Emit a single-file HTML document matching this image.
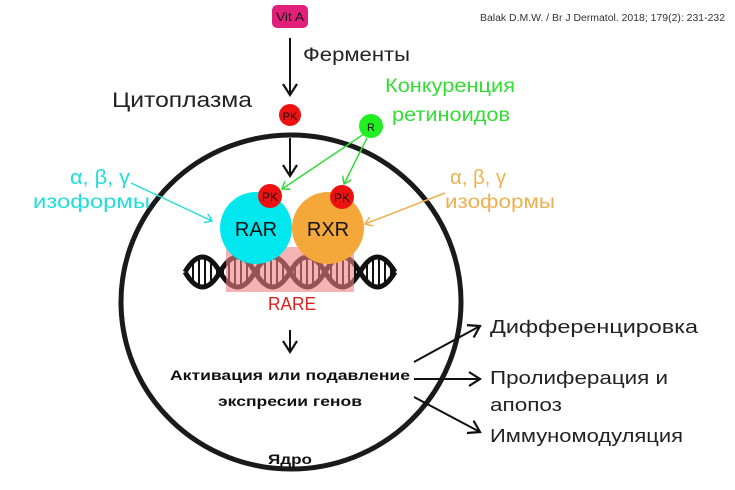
<!DOCTYPE html>
<html><head><meta charset="utf-8"><style>
body{margin:0;background:#fff}
svg{display:block}
text{font-family:"Liberation Sans","DejaVu Sans",sans-serif}
</style></head><body>
<svg width="735" height="490" viewBox="0 0 735 490" xmlns="http://www.w3.org/2000/svg">
<defs>
<pattern id="st" width="6" height="10" patternUnits="userSpaceOnUse"><rect x="0" y="0" width="2" height="10" fill="#111"/></pattern>
<marker id="ab" markerWidth="16" markerHeight="16" refX="12" refY="8" orient="auto" markerUnits="userSpaceOnUse"><path d="M1 1 L12 8 L1 15" fill="none" stroke="#111" stroke-width="2.2"/></marker>
<marker id="ag" markerWidth="10" markerHeight="10" refX="8" refY="5" orient="auto" markerUnits="userSpaceOnUse"><path d="M1 0 L8 5 L1 10" fill="none" stroke="#33dd33" stroke-width="1.5"/></marker>
<marker id="ac" markerWidth="10" markerHeight="10" refX="8" refY="5" orient="auto" markerUnits="userSpaceOnUse"><path d="M1 0 L8 5 L1 10" fill="none" stroke="#22dddd" stroke-width="1.5"/></marker>
<marker id="ao" markerWidth="10" markerHeight="10" refX="8" refY="5" orient="auto" markerUnits="userSpaceOnUse"><path d="M1 0 L8 5 L1 10" fill="none" stroke="#f0b050" stroke-width="1.5"/></marker>
</defs>
<text x="480" y="21" font-size="10" fill="#333" textLength="245" lengthAdjust="spacingAndGlyphs">Balak D.M.W. / Br J Dermatol. 2018; 179(2): 231-232</text>
<rect x="272" y="5" width="36" height="23" rx="5" fill="#e0207a"/>
<text x="290" y="21" font-size="12" text-anchor="middle" fill="#111" textLength="28" lengthAdjust="spacingAndGlyphs">Vit A</text>
<line x1="290" y1="38" x2="290" y2="95" stroke="#111" stroke-width="2" marker-end="url(#ab)"/>
<text x="303" y="61" font-size="19" fill="#222" textLength="107" lengthAdjust="spacingAndGlyphs">Ферменты</text>
<text x="112" y="107" font-size="21" fill="#222" textLength="140" lengthAdjust="spacingAndGlyphs">Цитоплазма</text>
<circle cx="290" cy="115" r="11" fill="#ee1111"/>
<text x="290" y="120" font-size="11" text-anchor="middle" fill="#111">PK</text>
<text x="385" y="92" font-size="19" fill="#33dd33" textLength="130" lengthAdjust="spacingAndGlyphs">Конкуренция</text>
<text x="392" y="121" font-size="19" fill="#33dd33" textLength="118" lengthAdjust="spacingAndGlyphs">ретиноидов</text>
<ellipse cx="291" cy="302" rx="170" ry="167" fill="none" stroke="#1a1a1a" stroke-width="5"/>
<line x1="290" y1="138" x2="290" y2="176" stroke="#111" stroke-width="2" marker-end="url(#ab)"/>
<line x1="364" y1="134" x2="282" y2="189" stroke="#33dd33" stroke-width="1.5" marker-end="url(#ag)"/>
<line x1="367" y1="138" x2="344" y2="184" stroke="#33dd33" stroke-width="1.5" marker-end="url(#ag)"/>
<circle cx="371" cy="126" r="12" fill="#22ee22"/>
<text x="371" y="131" font-size="11" text-anchor="middle" fill="#111">R</text>
<text x="70" y="184" font-size="20" fill="#22dddd" font-family="Liberation Serif,serif" textLength="60" lengthAdjust="spacingAndGlyphs">α, β, γ</text>
<text x="33" y="208" font-size="19" fill="#22dddd" textLength="117" lengthAdjust="spacingAndGlyphs">изоформы</text>
<line x1="131" y1="183" x2="212" y2="221" stroke="#22dddd" stroke-width="1.5" marker-end="url(#ac)"/>
<text x="450" y="184" font-size="20" fill="#f0b050" font-family="Liberation Serif,serif" textLength="56" lengthAdjust="spacingAndGlyphs">α, β, γ</text>
<text x="445" y="208" font-size="19" fill="#f0b050" textLength="110" lengthAdjust="spacingAndGlyphs">изоформы</text>
<line x1="445" y1="193" x2="365" y2="224" stroke="#f0b050" stroke-width="1.5" marker-end="url(#ao)"/>
<path d="M185 272 Q202.5 242 220 272 T255 272 T290 272 T325 272 T360 272 T395 272 Q377.5 242 360 272 Q342.5 302 325 272 Q307.5 242 290 272 Q272.5 302 255 272 Q237.5 242 220 272 Q202.5 302 185 272Z" fill="url(#st)"/>
<path d="M185 272 Q202.5 242 220 272 T255 272 T290 272 T325 272 T360 272 T395 272" fill="none" stroke="#111" stroke-width="5"/>
<path d="M185 272 Q202.5 302 220 272 T255 272 T290 272 T325 272 T360 272 T395 272" fill="none" stroke="#111" stroke-width="5"/>
<rect x="226" y="247" width="128" height="45" fill="#f08080" opacity="0.6"/>
<circle cx="256" cy="228" r="36" fill="#00e8ee"/>
<circle cx="328" cy="228" r="36" fill="#f5a83a"/>
<text x="256" y="236" font-size="20" text-anchor="middle" fill="#111">RAR</text>
<text x="328" y="236" font-size="20" text-anchor="middle" fill="#111">RXR</text>
<circle cx="270" cy="196" r="12" fill="#ee1111"/>
<text x="270" y="201" font-size="12" text-anchor="middle" fill="#111">PK</text>
<circle cx="342" cy="197" r="12" fill="#ee1111"/>
<text x="342" y="202" font-size="12" text-anchor="middle" fill="#111">PK</text>
<text x="268" y="310" font-size="18" fill="#dd2222" textLength="48" lengthAdjust="spacingAndGlyphs">RARE</text>
<line x1="290" y1="330" x2="290" y2="352" stroke="#111" stroke-width="2" marker-end="url(#ab)"/>
<text x="170" y="380" font-size="14" font-weight="bold" fill="#111" textLength="240" lengthAdjust="spacingAndGlyphs">Активация или подавление</text>
<text x="218" y="406" font-size="14" font-weight="bold" fill="#111" textLength="144" lengthAdjust="spacingAndGlyphs">экспресии генов</text>
<text x="268" y="464" font-size="14" font-weight="bold" fill="#111" textLength="44" lengthAdjust="spacingAndGlyphs">Ядро</text>
<line x1="414" y1="362" x2="480" y2="326" stroke="#111" stroke-width="2" marker-end="url(#ab)"/>
<line x1="414" y1="379" x2="480" y2="379" stroke="#111" stroke-width="2" marker-end="url(#ab)"/>
<line x1="414" y1="397" x2="480" y2="432" stroke="#111" stroke-width="2" marker-end="url(#ab)"/>
<text x="490" y="333" font-size="18" fill="#222" textLength="208" lengthAdjust="spacingAndGlyphs">Дифференцировка</text>
<text x="490" y="384" font-size="18" fill="#222" textLength="178" lengthAdjust="spacingAndGlyphs">Пролиферация и</text>
<text x="490" y="411" font-size="18" fill="#222" textLength="72" lengthAdjust="spacingAndGlyphs">апопоз</text>
<text x="490" y="442" font-size="18" fill="#222" textLength="193" lengthAdjust="spacingAndGlyphs">Иммуномодуляция</text>
</svg>
</body></html>
